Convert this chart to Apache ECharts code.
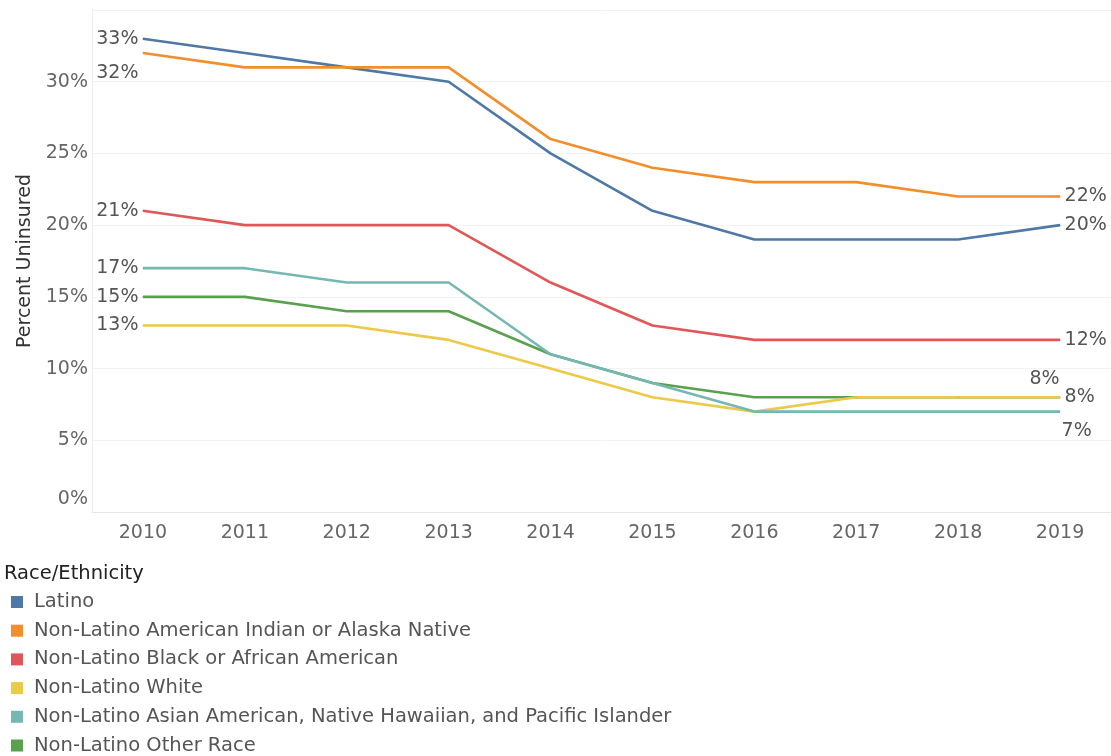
<!DOCTYPE html>
<html><head><meta charset="utf-8">
<script src="https://cdn.jsdelivr.net/npm/echarts@6/dist/echarts.min.js"></script>
<style>html,body{margin:0;padding:0;background:#fff}#c{width:1111px;height:756px}</style>
</head><body><div id="c"></div>
<script>
const years = ['2010','2011','2012','2013','2014','2015','2016','2017','2018','2019'];
const latino = [33,32,31,30,25,21,19,19,19,20];
const aian = [32,31,31,31,26,24,23,23,22,22];
const black = [21,20,20,20,16,13,12,12,12,12];
const white = [13,13,13,12,10,8,7,8,8,8];
const asian = [17,17,16,16,11,9,7,7,7,7];
const other = [15,15,14,14,11,9,8,8,8,8];
const names = ['Latino','Non-Latino American Indian or Alaska Native','Non-Latino Black or African American','Non-Latino White','Non-Latino Asian American, Native Hawaiian, and Pacific Islander','Non-Latino Other Race'];
const yTicks = [0,5,10,15,20,25,30];

const FONT = 'DejaVu Sans';
const LBL = {color:'#555', fontSize:19, fontFamily:FONT};

function mk(name, values, color, startCfg, endCfg){
  const data = values.map((v,i)=>{
    if(i===0) return {value:v, label:Object.assign({show:true, formatter:v+'%'}, LBL, startCfg)};
    if(i===values.length-1) return {value:v, label:Object.assign({show:true, formatter:v+'%'}, LBL, endCfg)};
    return v;
  });
  return {name, type:'line', data, symbol:'circle', symbolSize:1, showSymbol:true, showAllSymbol:true,
    lineStyle:{width:2.6, color}, itemStyle:{color}, label:{show:false}, emphasis:{disabled:true}};
}
const L = {position:'left', distance:4};
const R = {position:'right', distance:4};
const series = [
  mk(names[5], other, '#59a14f', L, {position:'left', distance:0, offset:[0,-18]}),
  mk(names[0], latino, '#4e79a7', L, R),
  mk(names[1], aian, '#f28e2b', Object.assign({}, L, {offset:[0,20]}), R),
  mk(names[2], black, '#e15759', L, R),
  mk(names[3], white, '#edc948', L, R),
  mk(names[4], asian, '#76b7b2', L, {position:'right', distance:1, offset:[0,19]}),
];

const chart = echarts.init(document.getElementById('c'));
chart.setOption({
  animation:false,
  textStyle:{fontFamily:FONT},
  title:{text:'Race/Ethnicity', left:4, top:564, padding:0, textStyle:{fontSize:19.5, fontWeight:'normal', color:'#222', fontFamily:FONT}},
  legend:{data:names, orient:'vertical', left:11, top:592, padding:0, itemWidth:12, itemHeight:12, icon:'rect', itemGap:8.7,
    textStyle:{fontSize:19.5, color:'#555', lineHeight:20, fontFamily:FONT, padding:[0,0,0,6]}},
  grid:{left:92, width:1021, top:10, bottom:244, containLabel:false},
  xAxis:{type:'category', data:years, boundaryGap:true,
    axisLine:{lineStyle:{color:'#e6e6e6'}}, axisTick:{alignWithLabel:true, length:4, lineStyle:{color:'#e6e6e6'}},
    axisLabel:{color:'#666', fontSize:19, margin:12, fontFamily:FONT}},
  yAxis:{type:'value', min:0, max:35, interval:5, name:'Percent Uninsured', nameLocation:'middle', nameGap:53,
    nameTextStyle:{color:'#333', fontSize:19, fontFamily:FONT},
    axisLine:{show:true, lineStyle:{color:'#ececec'}}, axisTick:{show:false},
    splitLine:{lineStyle:{color:'#f2f2f2'}},
    axisLabel:{color:'#666', fontSize:19, margin:4, fontFamily:FONT,
      formatter:v=> yTicks.indexOf(v)<0 ? '' : (v===0 ? '{z|0%}' : v+'%'),
      rich:{z:{color:'#666', fontSize:19, fontFamily:FONT, padding:[0,0,26,0]}}}},
  series
});
</script></body></html>
